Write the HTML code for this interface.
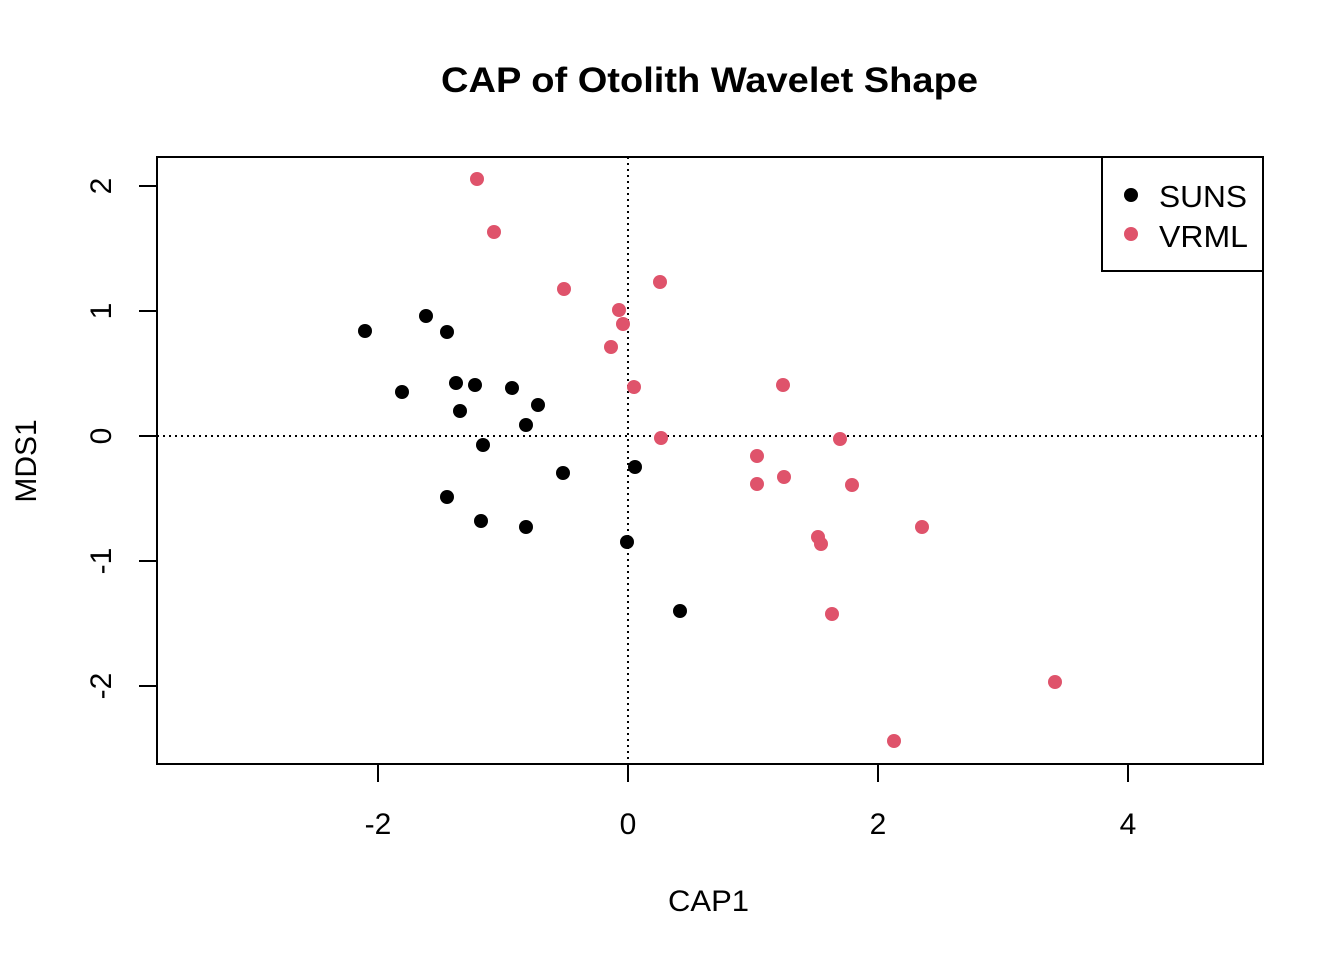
<!DOCTYPE html>
<html><head><meta charset="utf-8"><style>
body{margin:0;background:#fff}
svg{display:block;font-family:"Liberation Sans",Arial,sans-serif}
</style></head><body>
<svg id="chart" width="1344" height="960" viewBox="0 0 1344 960">
<rect width="1344" height="960" fill="#fff"/>
<text x="441" y="92" font-size="35" font-weight="bold" textLength="537" lengthAdjust="spacingAndGlyphs">CAP of Otolith Wavelet Shape</text>
<g id="axes"></g>
<g id="points"></g>
<rect x="157" y="157" width="1106" height="607" fill="none" stroke="#000" stroke-width="2"/>
<g>
<rect x="1102" y="157" width="161" height="114" fill="#fff" stroke="#000" stroke-width="2"/>
<circle cx="1131" cy="195" r="7" fill="#000"/>
<text x="1159" y="207" font-size="31" textLength="88" lengthAdjust="spacingAndGlyphs">SUNS</text>
<circle cx="1131" cy="234" r="7" fill="#DF536B"/>
<text x="1159" y="247" font-size="31" textLength="89" lengthAdjust="spacingAndGlyphs">VRML</text>
</g>
<text x="668" y="911" font-size="30" textLength="81" lengthAdjust="spacingAndGlyphs">CAP1</text>
<text transform="translate(36,461) rotate(-90)" font-size="30" text-anchor="middle">MDS1</text>
</svg>
<script>
const xTicks=[-2,0,2,4];
const yTicks=[-2,-1,0,1,2];
const sunsX=[-2.104,-1.616,-1.448,-1.808,-1.376,-1.224,-1.344,-0.928,-0.72,-0.816,-1.16,-0.52,0.056,-1.448,-1.176,-0.816,-0.008,0.416];
const sunsY=[0.84,0.96,0.832,0.352,0.424,0.408,0.2,0.384,0.248,0.088,-0.072,-0.296,-0.248,-0.488,-0.68,-0.728,-0.848,-1.4];
const vrmlX=[-1.208,-1.072,-0.512,0.256,-0.072,-0.04,-0.136,0.048,1.24,0.264,1.696,1.032,1.248,1.032,1.792,2.352,1.52,1.544,1.632,3.416,2.128];
const vrmlY=[2.056,1.632,1.176,1.232,1.008,0.896,0.712,0.392,0.408,-0.016,-0.024,-0.16,-0.328,-0.384,-0.392,-0.728,-0.808,-0.864,-1.424,-1.968,-2.44];
const NS="http://www.w3.org/2000/svg";
const sx=v=>628+125*v, sy=v=>436-125*v;
const axes=document.getElementById('axes'), pts=document.getElementById('points');
function mk(tag,attrs,parent){const e=document.createElementNS(NS,tag);for(const k in attrs)e.setAttribute(k,attrs[k]);parent.appendChild(e);return e;}
let l=mk('line',{x1:sx(0),x2:sx(0),y1:157,y2:764,stroke:'#000','stroke-width':2,'stroke-dasharray':'2,4'},axes);


l=mk('line',{x1:157,x2:1263,y1:sy(0),y2:sy(0),stroke:'#000','stroke-width':2,'stroke-dasharray':'2,4'},axes);


xTicks.forEach(t=>{
 const g=mk('line',{x1:sx(t),x2:sx(t),y1:764,y2:782,stroke:'#000','stroke-width':2},axes);
 
 
 const tx=mk('text',{x:sx(t),y:834,'font-size':30,'text-anchor':'middle'},axes);
 tx.textContent=t;
 
 
});
yTicks.forEach(t=>{
 const g=mk('line',{x1:139,x2:157,y1:sy(t),y2:sy(t),stroke:'#000','stroke-width':2},axes);
 
 
 const tx=mk('text',{transform:`translate(111,${sy(t)}) rotate(-90)`,'font-size':30,'text-anchor':'middle'},axes);
 tx.textContent=t;
 
 
});
sunsX.forEach((v,i)=>{
 const c=mk('circle',{cx:sx(v),cy:sy(sunsY[i]),r:7,fill:'#000'},pts);
 
 
});
vrmlX.forEach((v,i)=>{
 const c=mk('circle',{cx:sx(v),cy:sy(vrmlY[i]),r:7,fill:'#DF536B'},pts);
 
 
});
</script>
</body></html>
